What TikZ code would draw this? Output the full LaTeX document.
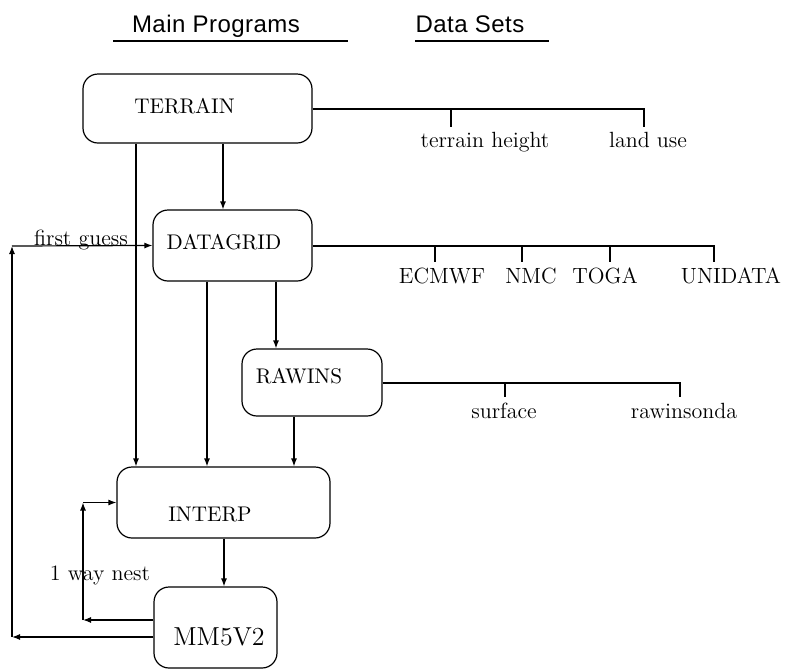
\documentclass[tikz,border=0pt]{standalone}
\usepackage{fontspec}
\newfontfamily\headfont[LetterSpace=2]{Liberation Sans}
\usetikzlibrary{arrows.meta}
\tikzset{
  prog/.style={draw, rounded corners=7.5pt, inner sep=0pt, line width=0.6pt},
  progtxt/.style={anchor=base, inner sep=0pt, font=\fontsize{10.6}{12}\selectfont},
  datatxt/.style={anchor=base, inner sep=0pt, font=\fontsize{11}{13}\selectfont},
  head/.style={anchor=base, inner sep=0pt, font=\headfont\fontsize{12}{14}\selectfont},
  arr/.style={-{Latex[length=4pt,width=3pt]}},
}
\begin{document}
\begin{tikzpicture}[x=0.5pt,y=-0.5pt,line width=0.6pt]
        \useasboundingbox (0,0) rectangle (788,671);
        % headings
        \node[head] (mainhd) at (216,32) {Main Programs};
        \node[head] (datahd) at (470,32) {Data Sets};
        \draw (113,41) -- (348,41);
        \draw (415,41) -- (549,41);
        % program boxes
        \node[prog, minimum width=114.5pt, minimum height=34.5pt] (terrain) at (197.5,108.5) {};
        \node[prog, minimum width=79.5pt, minimum height=35.5pt] (datagrid) at (232.5,245.5) {};
        \node[prog, minimum width=70pt, minimum height=33.5pt] (rawins) at (312,382.5) {};
        \node[prog, minimum width=106.5pt, minimum height=35.5pt] (interp) at (223.5,502.5) {};
        \node[prog, minimum width=61.5pt, minimum height=40.5pt] (mm5) at (215.5,627.5) {};
        \node[progtxt] (terrain-t) at (184.5,113) {TERRAIN};
        \node[progtxt] (datagrid-t) at (224,249) {DATAGRID};
        \node[progtxt] (rawins-t) at (299,383) {RAWINS};
        \node[progtxt] (interp-t) at (210,521) {INTERP};
        \node[progtxt, font=\fontsize{13}{15}\selectfont] (mm5-t) at (219,645) {MM5V2};
        % vertical connectors
        \coordinate (c1) at (136,0);
        \coordinate (c2) at (223,0);
        \coordinate (c3) at (207,0);
        \coordinate (c4) at (276,0);
        \coordinate (c5) at (294,0);
        \coordinate (c6) at (224,0);
        \draw[arr] (terrain.south -| c1) -- (interp.north -| c1);
        \draw[arr] (terrain.south -| c2) -- (datagrid.north -| c2);
        \draw[arr] (datagrid.south -| c3) -- (interp.north -| c3);
        \draw[arr] (datagrid.south -| c4) -- (rawins.north -| c4);
        \draw[arr] (rawins.south -| c5) -- (interp.north -| c5);
        \draw[arr] (interp.south -| c6) -- (mm5.north -| c6);
        % data sets of TERRAIN
        \coordinate (th) at (451,109);
        \coordinate (lu) at (644,109);
        \draw (terrain.east |- th) -- (lu) -- ++(0,18);
        \draw (th) -- ++(0,18);
        \node[datatxt] (th-t) at (485,147) {terrain height};
        \node[datatxt] (lu-t) at (648,147) {land use};
        % data sets of DATAGRID
        \coordinate (ec) at (435,246);
        \coordinate (nmc) at (522,246);
        \coordinate (tg) at (610,246);
        \coordinate (ud) at (714,246);
        \draw (datagrid.east |- ec) -- (ud) -- ++(0,16);
        \foreach \p in {ec,nmc,tg} \draw (\p) -- ++(0,16);
        \node[datatxt] (ec-t) at (442,283) {ECMWF};
        \node[datatxt] (nmc-t) at (531,283) {NMC};
        \node[datatxt] (tg-t) at (605,283) {TOGA};
        \node[datatxt] (ud-t) at (731,283) {UNIDATA};
        % data sets of RAWINS
        \coordinate (sf) at (505,383);
        \coordinate (rs) at (680,383);
        \draw (rawins.east |- sf) -- (rs) -- ++(0,14);
        \draw (sf) -- ++(0,14);
        \node[datatxt] (sf-t) at (504,418) {surface};
        \node[datatxt] (rs-t) at (684,418) {rawinsonda};
        % feedback loops
        \coordinate (fg1) at (12,637);
        \coordinate (fg2) at (12,246);
        \draw[arr] (mm5.west |- fg1) -- (fg1);
        \draw[arr] (fg1) -- (fg2);
        \draw[arr] (fg2) -- (datagrid.west);
        \node[datatxt] (fg-t) at (81,245) {first guess};
        \coordinate (wn1) at (83,620);
        \coordinate (wn2) at (83,502.5);
        \draw[arr] (mm5.west |- wn1) -- (wn1);
        \draw[arr] (wn1) -- (wn2);
        \draw[arr] (wn2) -- (interp.west);
        \node[datatxt] (wn-t) at (100,580) {1 way nest};
\end{tikzpicture}
\end{document}
